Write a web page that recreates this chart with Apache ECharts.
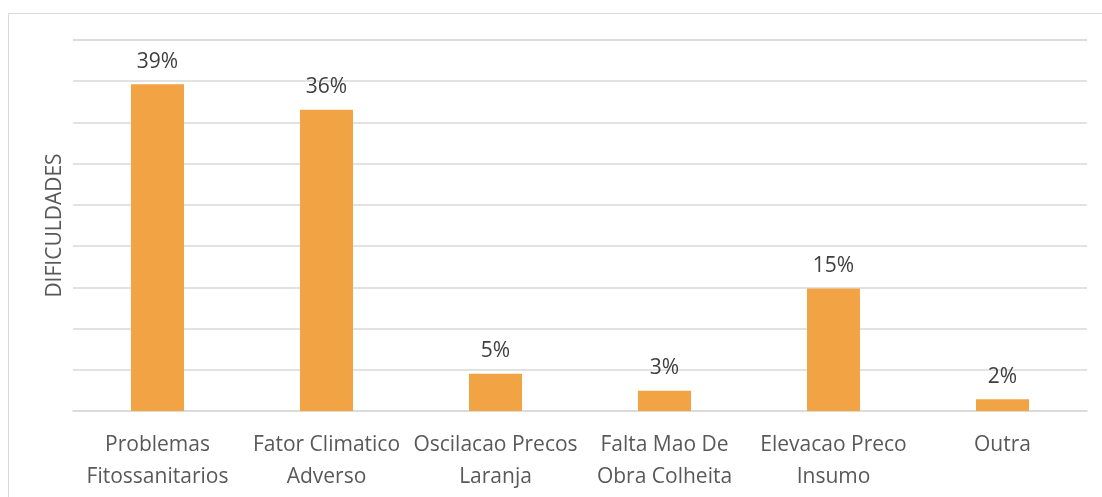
<!DOCTYPE html>
<html>
<head>
<meta charset="utf-8">
<script src="https://cdn.jsdelivr.net/npm/echarts@6/dist/echarts.min.js"></script>
<style>
	html, body { margin: 0; padding: 0; background: #fff; }
	#chart { width: 1102px; height: 497px; }
</style>
</head>
<body>
<div id="chart"></div>
<script>
// categorias e valores (%)
const categorias = [
	'Problemas\nFitossanitarios',
	'Fator Climatico\nAdverso',
	'Oscilacao Precos\nLaranja',
	'Falta Mao De\nObra Colheita',
	'Elevacao Preco\nInsumo',
	'Outra'
];
const valores = [39, 36, 5, 3, 15, 2];
const nomeEixo = 'DIFICULDADES';

const myChart = echarts.init(document.getElementById('chart'));
const font = '"Open Sans", sans-serif';

const option = {
	backgroundColor: '#fff',
	animation: false,
	graphic: [{
		type: 'rect',
		shape: { x: 8.5, y: 13.5, width: 1200, height: 600 },
		style: { fill: 'none', stroke: '#d9d9d9', lineWidth: 1 },
		silent: true
	}],
	grid: { left: 73, right: 15, top: 40, bottom: 86 },
	xAxis: {
		type: 'category',
		data: categorias,
		axisLine: { lineStyle: { color: '#d9d9d9', width: 1.5 } },
		axisTick: { show: false },
		axisLabel: {
			color: '#595959',
			fontFamily: font,
			fontSize: 21,
			lineHeight: 32,
			margin: 18,
			interval: 0
		}
	},
	yAxis: {
		type: 'value',
		// o eixo do original nao comeca exatamente em zero
		min: 0.63,
		max: 0.63 + 9 * 4.84,
		interval: 4.84,
		name: nomeEixo,
		nameLocation: 'middle',
		nameGap: 7,
		nameTextStyle: { color: '#595959', fontFamily: font, fontSize: 21 },
		axisLine: { show: false },
		axisTick: { show: false },
		axisLabel: { show: false },
		splitLine: { lineStyle: { color: '#d9d9d9', width: 1.5 } }
	},
	series: [{
		type: 'bar',
		data: valores,
		barWidth: 53,
		itemStyle: { color: '#f2a445' },
		label: {
			show: true,
			position: 'top',
			distance: 12,
			color: '#404040',
			fontFamily: font,
			fontSize: 21,
			formatter: function (p) { return p.value + '%'; }
		}
	}]
};
myChart.setOption(option);
</script>
</body>
</html>
